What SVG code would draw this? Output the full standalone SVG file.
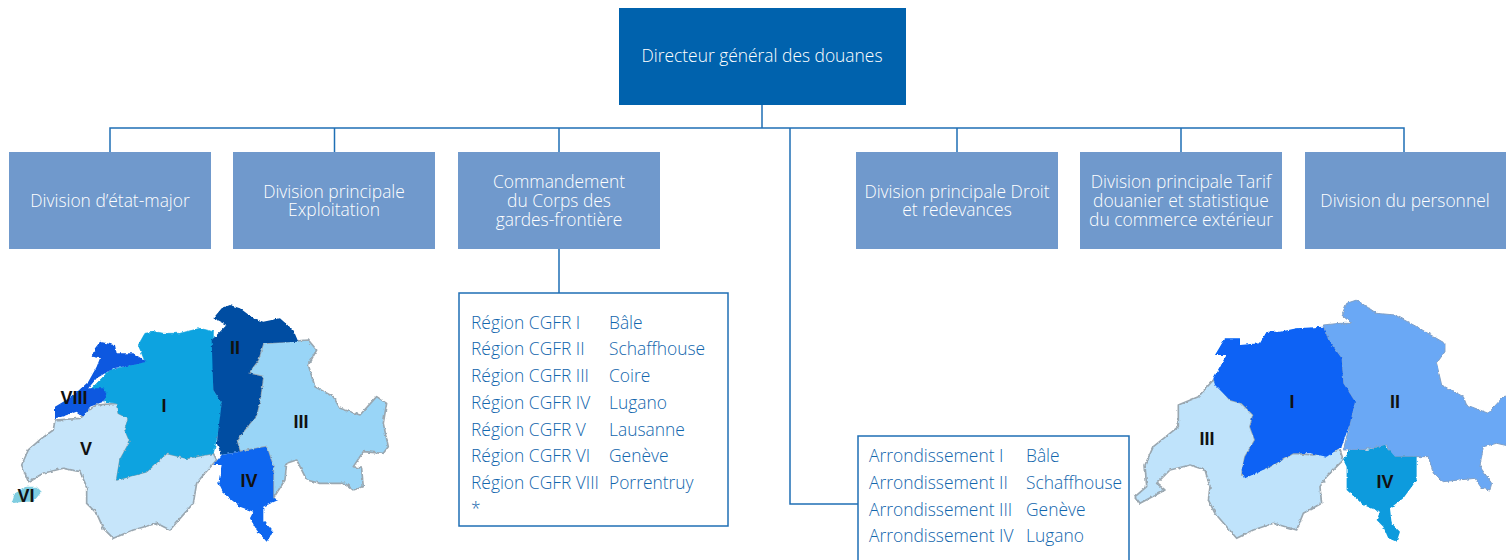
<svg xmlns="http://www.w3.org/2000/svg" width="1506" height="560" viewBox="0 0 1506 560">
<defs>
<filter id="rough" x="-5%" y="-5%" width="110%" height="110%">
<feTurbulence type="fractalNoise" baseFrequency="0.09" numOctaves="2" seed="4" result="n"/>
<feDisplacementMap in="SourceGraphic" in2="n" scale="9" xChannelSelector="R" yChannelSelector="G"/>
<feGaussianBlur stdDeviation="1.2"/>
</filter>
</defs>
<style>
text{font-family:"Open Sans","Noto Sans","Liberation Sans",sans-serif;font-size:17.4px;font-weight:300}
.w{fill:#fff;text-anchor:middle}
.b{fill:#1266ad}
text.m{font-family:"Liberation Sans",Arial,sans-serif;font-size:18px;font-weight:bold;fill:#111;text-anchor:middle}
.d{fill:#7099cc}
.c{fill:none;stroke:#1f6fb5;stroke-width:1.5}
.p{fill:#fff;stroke:#1f6fb5;stroke-width:1.5}
.r{stroke:#9aa7b0;stroke-width:5;stroke-linejoin:round}
</style>
<rect width="1506" height="560" fill="#fff"/>
<g id="connectors" class="c">
<path d="M762 105V128M110 152V128H1404V152M334.500 128V152M559 128V152M957 128V152M1181 128V152M790 128V504H858M559 249V293"/>
</g>
<g id="directeur"><rect x="619" y="8" width="287" height="97" fill="#0062ad"/><text class="w" x="762" y="62">Directeur général des douanes</text></g>
<g id="etat-major"><rect class="d" x="9" y="152" width="202" height="97"/><text class="w" x="110" y="207">Division d’état-major</text></g>
<g id="exploitation"><rect class="d" x="233" y="152" width="202" height="97"/><text class="w" x="334" y="198">Division principale</text><text class="w" x="334" y="216">Exploitation</text></g>
<g id="commandement"><rect class="d" x="458" y="152" width="202" height="97"/><text class="w" x="559" y="188">Commandement</text><text class="w" x="559" y="207">du Corps des</text><text class="w" x="559" y="226">gardes-frontière</text></g>
<g id="droit"><rect class="d" x="856" y="152" width="202" height="97"/><text class="w" x="957" y="198">Division principale Droit</text><text class="w" x="957" y="216">et redevances</text></g>
<g id="tarif"><rect class="d" x="1080" y="152" width="202" height="97"/><text class="w" x="1181" y="188">Division principale Tarif</text><text class="w" x="1181" y="207">douanier et statistique</text><text class="w" x="1181" y="226">du commerce extérieur</text></g>
<g id="personnel"><rect class="d" x="1305" y="152" width="201" height="97"/><text class="w" x="1405" y="207">Division du personnel</text></g>
<g id="regions"><rect class="p" x="459" y="293" width="269" height="233"/>
<g class="b">
<text x="471" y="329">Région CGFR I</text><text x="609" y="329">Bâle</text>
<text x="471" y="355">Région CGFR II</text><text x="609" y="355">Schaffhouse</text>
<text x="471" y="382">Région CGFR III</text><text x="609" y="382">Coire</text>
<text x="471" y="409">Région CGFR IV</text><text x="609" y="409">Lugano</text>
<text x="471" y="436">Région CGFR V</text><text x="609" y="436">Lausanne</text>
<text x="471" y="462">Région CGFR VI</text><text x="609" y="462">Genève</text>
<text x="471" y="489">Région CGFR VIII</text><text x="609" y="489">Porrentruy</text>
<text x="471" y="515">*</text>
</g></g>
<g id="arrondissements"><path class="p" d="M858 561V436H1129V561"/>
<g class="b">
<text x="869" y="462">Arrondissement I</text><text x="1026" y="462">Bâle</text>
<text x="869" y="489">Arrondissement II</text><text x="1026" y="489">Schaffhouse</text>
<text x="869" y="516">Arrondissement III</text><text x="1026" y="516">Genève</text>
<text x="869" y="542">Arrondissement IV</text><text x="1026" y="542">Lugano</text>
</g></g>
<g id="map-left">
<g transform="translate(0 290) scale(.3333)" filter="url(#rough)">
<polygon class="r" fill="#c6e5fa" points="165,390 240,385 250,370 290,345 350,340 355,370 385,385 375,420 390,455 360,510 350,570 440,545 500,490 560,505 640,490 650,510 610,555 590,580 580,640 545,680 510,720 470,700 400,720 340,745 310,715 290,670 260,640 260,590 240,545 190,535 130,550 85,575 65,525 85,480 125,445 160,420"/>
<polygon class="r" fill="#99d5f7" points="790,160 925,150 950,180 925,225 945,290 1000,320 1020,355 1080,375 1130,320 1160,340 1150,400 1165,470 1150,490 1090,485 1060,530 1085,535 1090,590 1060,600 1035,580 960,580 920,570 890,510 860,520 855,570 820,625 820,530 800,470 770,475 720,485 710,450 770,375 780,330 790,260 745,250 775,210"/>
<polygon fill="#0ba3e0" stroke="#0ba3e0" stroke-width="2" points="415,165 435,130 465,125 490,130 540,130 600,115 640,125 640,200 640,300 665,340 660,400 645,470 640,490 560,505 500,490 440,545 350,570 360,510 390,455 375,420 385,385 355,370 350,340 315,335 300,310 270,300 330,240 435,215"/>
<polygon fill="#0a58e0" points="300,155 345,165 350,190 400,190 440,215 400,225 340,235 290,265 265,295 310,295 320,310 310,335 270,350 250,380 230,365 185,380 165,385 165,350 215,320 265,275 290,230 300,205 275,200 285,175"/>
<polygon fill="#034ea2" points="640,85 665,55 690,45 720,55 760,85 790,95 840,85 880,120 895,155 790,160 775,210 745,250 790,260 780,330 770,375 710,450 720,485 665,495 650,460 665,340 640,300 635,150 680,105 660,95"/>
<polygon fill="#0a66f0" points="665,495 720,485 770,475 800,470 820,530 820,625 835,630 790,650 790,690 820,725 800,755 770,720 750,685 760,665 720,650 670,610 655,580 665,525 640,525"/>
<polygon fill="#7fcde0" points="35,640 45,610 80,590 110,590 125,605 100,635 70,635"/>
</g>
<text class="m" x="235" y="354">II</text><text class="m" x="164" y="412">I</text><text class="m" x="74" y="404">VIII</text><text class="m" x="301" y="428">III</text><text class="m" x="86" y="455">V</text><text class="m" x="249" y="487">IV</text><text class="m" x="26" y="502">VI</text>
</g>
<g id="map-right">
<g transform="translate(1120 290) scale(.3333)" filter="url(#rough)">
<polygon class="r" fill="#bfe3fb" points="280,270 330,330 365,340 400,375 390,410 405,450 375,500 365,555 450,530 520,490 580,495 660,480 670,510 620,560 600,590 605,640 550,670 530,720 460,700 400,720 350,745 285,670 265,630 270,590 255,540 210,525 150,540 110,580 135,600 60,640 45,620 80,590 75,525 100,470 175,410 175,345 235,320"/>
<polygon fill="#6aa8f5" stroke="#7f9fc5" stroke-width="3" points="610,105 660,100 695,100 665,75 680,40 710,30 770,70 825,75 890,110 975,160 975,185 950,220 965,285 1030,320 1040,345 1105,370 1150,320 1175,315 1175,470 1130,460 1090,470 1080,530 1115,580 1110,600 1085,595 1065,565 970,575 940,550 925,500 880,500 820,500 800,465 725,480 670,480 690,400 705,335 670,280 665,205 625,150"/>
<polygon fill="#0762f5" points="280,265 305,220 320,195 285,195 315,145 360,145 360,165 420,160 440,125 480,125 530,115 610,110 625,150 665,205 670,280 705,335 690,400 665,470 620,500 570,490 520,490 450,530 375,565 365,540 375,500 405,450 390,410 400,375 365,340 330,330 285,285"/>
<polygon fill="#0b9bdd" points="670,510 690,480 740,480 795,465 825,500 890,500 890,570 850,625 810,655 815,700 840,725 830,755 805,745 790,710 770,690 780,665 730,645 680,600 680,530"/>
</g>
<text class="m" x="1292" y="408">I</text><text class="m" x="1395" y="408">II</text><text class="m" x="1207" y="445">III</text><text class="m" x="1385" y="488">IV</text>
</g>
</svg>
